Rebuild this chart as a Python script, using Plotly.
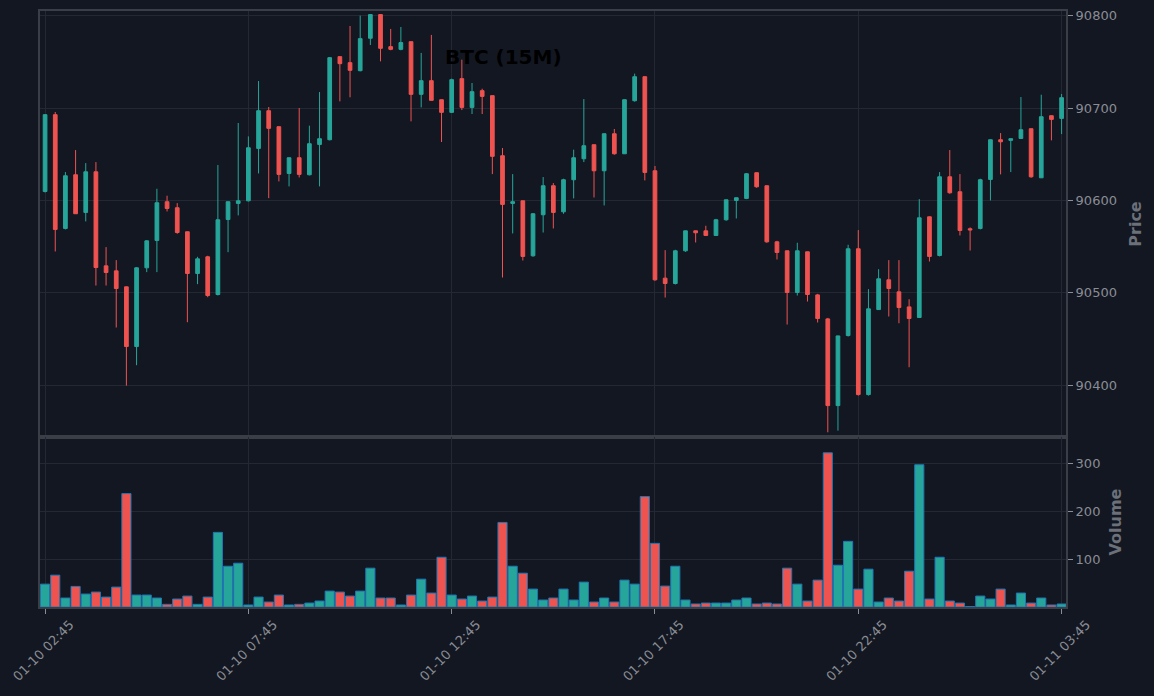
import pandas as pd
import plotly.graph_objects as go

# 15 minute candles, 01-10 02:45 -> 01-11 03:45
times = pd.date_range("2025-01-10 02:45", periods=101, freq="15min")

opens = [90609.7, 90692.8, 90569.7, 90627.8, 90587.0, 90631.0, 90529.2, 90523.8, 90506.5, 90441.9,
         90527.1, 90556.7, 90598.6, 90592.1, 90566.1, 90520.9, 90539.0, 90498.2, 90579.4, 90596.8,
         90599.6, 90656.3, 90697.1, 90679.8, 90629.2, 90646.2, 90627.8, 90660.6, 90665.7, 90755.6,
         90749.1, 90740.4, 90775.5, 90801.1, 90766.4, 90763.5, 90771.8, 90714.8, 90729.6, 90709.0,
         90695.3, 90731.8, 90700.7, 90718.8, 90713.4, 90648.4, 90596.8, 90599.6, 90540.1, 90584.5,
         90615.9, 90587.7, 90622.4, 90645.1, 90660.3, 90632.1, 90672.2, 90650.5, 90707.9, 90733.9,
         90632.1, 90515.9, 90510.1, 90545.5, 90567.1, 90567.1, 90562.1, 90579.1, 90600.0, 90602.2,
         90630.0, 90615.9, 90555.2, 90545.5, 90500.4, 90544.4, 90497.8, 90471.8, 90378.0, 90453.8,
         90547.7, 90389.9, 90481.9, 90514.1, 90501.1, 90484.8, 90473.3, 90582.3, 90540.4, 90625.6,
         90609.4, 90569.3, 90569.7, 90622.7, 90665.7, 90665.0, 90667.1, 90677.6, 90624.5, 90691.7,
         90688.8]

highs = [90693.5, 90695.7, 90630.7, 90654.5, 90640.4, 90641.5, 90549.5, 90535.4, 90506.8, 90527.8,
         90557.0, 90612.6, 90605.1, 90597.1, 90566.3, 90539.0, 90540.1, 90638.3, 90598.8, 90683.8,
         90669.3, 90729.2, 90701.1, 90680.0, 90646.4, 90700.0, 90680.9, 90717.3, 90755.2, 90755.8,
         90788.8, 90800.0, 90801.5, 90801.5, 90785.6, 90787.7, 90772.0, 90759.6, 90779.1, 90709.2,
         90731.8, 90752.3, 90727.1, 90720.9, 90713.6, 90656.7, 90628.5, 90599.8, 90586.3, 90625.3,
         90618.8, 90623.5, 90654.9, 90709.7, 90660.5, 90672.4, 90677.3, 90709.2, 90737.2, 90734.1,
         90637.2, 90546.2, 90546.6, 90567.3, 90567.3, 90572.6, 90580.1, 90600.9, 90603.1, 90629.6,
         90630.2, 90616.1, 90556.3, 90545.7, 90554.2, 90544.6, 90498.9, 90472.9, 90453.6, 90552.0,
         90567.9, 90504.0, 90525.6, 90535.4, 90535.4, 90493.1, 90601.4, 90582.5, 90630.7, 90654.5,
         90628.5, 90570.8, 90623.5, 90665.9, 90672.9, 90667.0, 90711.9, 90677.8, 90714.4, 90691.9,
         90715.2]

lows = [90608.6, 90544.8, 90568.6, 90585.4, 90577.3, 90507.9, 90507.9, 90462.5, 90399.6, 90421.7,
        90522.4, 90522.4, 90588.1, 90563.9, 90468.2, 90509.4, 90495.3, 90497.1, 90544.0, 90583.8,
        90598.9, 90629.2, 90602.5, 90620.6, 90615.2, 90624.9, 90627.1, 90615.2, 90665.0, 90707.2,
        90711.6, 90739.7, 90768.2, 90750.5, 90762.5, 90762.5, 90685.6, 90700.7, 90708.1, 90663.2,
        90694.6, 90697.8, 90693.5, 90693.5, 90628.5, 90516.6, 90564.3, 90535.0, 90539.0, 90565.3,
        90569.7, 90585.6, 90602.2, 90641.5, 90603.2, 90594.6, 90649.5, 90650.3, 90706.9, 90621.7,
        90513.0, 90494.9, 90509.0, 90544.4, 90554.5, 90561.9, 90561.9, 90578.0, 90580.5, 90601.4,
        90613.7, 90554.2, 90536.1, 90465.7, 90497.1, 90490.6, 90467.9, 90349.1, 90350.9, 90452.7,
        90388.8, 90388.8, 90481.7, 90474.4, 90467.1, 90419.5, 90473.1, 90533.9, 90539.4, 90607.2,
        90562.1, 90545.8, 90568.6, 90600.0, 90628.2, 90630.7, 90666.9, 90624.5, 90624.3, 90665.0,
        90671.8]

closes = [90692.8, 90568.6, 90626.7, 90585.6, 90631.0, 90527.4, 90522.0, 90504.7, 90441.9, 90527.1,
          90556.3, 90597.5, 90591.3, 90565.3, 90520.9, 90536.8, 90497.1, 90579.1, 90598.6, 90599.6,
          90657.0, 90697.1, 90678.0, 90628.2, 90646.2, 90628.2, 90661.4, 90666.8, 90754.5, 90748.0,
          90740.8, 90775.1, 90801.1, 90764.6, 90763.5, 90770.8, 90714.8, 90729.6, 90708.3, 90695.3,
          90730.7, 90700.7, 90717.7, 90712.6, 90647.7, 90595.7, 90598.6, 90539.4, 90585.6, 90615.9,
          90587.0, 90622.4, 90646.2, 90659.2, 90632.1, 90672.2, 90650.5, 90709.0, 90733.9, 90630.3,
          90514.1, 90510.1, 90545.5, 90567.1, 90565.0, 90562.1, 90579.1, 90600.7, 90602.9, 90628.9,
          90614.8, 90555.2, 90543.7, 90500.4, 90545.5, 90498.2, 90472.2, 90378.0, 90453.4, 90547.7,
          90389.9, 90482.7, 90515.2, 90504.7, 90484.1, 90472.2, 90581.2, 90539.4, 90625.6, 90608.3,
          90567.5, 90568.2, 90622.4, 90665.7, 90663.5, 90666.8, 90676.5, 90625.6, 90690.6, 90687.7,
          90711.2]

volumes = [47.9, 66.7, 18.8, 43.1, 27.1, 31.3, 20.8, 41.7, 237.5, 25.0,
           25.0, 18.8, 5.6, 16.7, 22.9, 5.6, 20.8, 156.3, 85.4, 91.7,
           4.2, 20.8, 10.4, 25.0, 4.2, 5.6, 8.3, 12.5, 33.3, 31.3,
           22.9, 33.3, 81.3, 18.8, 18.8, 4.2, 25.0, 58.3, 29.2, 104.2,
           25.0, 16.7, 22.9, 12.5, 20.8, 177.1, 85.4, 70.8, 37.5, 14.6,
           18.8, 37.5, 14.6, 52.1, 10.4, 18.8, 10.4, 56.3, 47.9, 231.3,
           133.3, 43.8, 85.4, 14.6, 6.3, 8.3, 8.3, 8.3, 14.6, 18.8,
           6.3, 8.3, 6.3, 81.3, 47.9, 12.5, 56.3, 322.9, 87.5, 137.5,
           37.5, 79.2, 10.4, 18.8, 12.5, 75.0, 297.9, 16.7, 104.2, 12.5,
           8.3, 1.0, 22.9, 16.7, 37.5, 4.2, 29.2, 8.3, 18.8, 4.2,
           6.3]

UP = "#26a69a"
DOWN = "#ef5350"
BG = "#131722"
FRAME = "#3a3e47"
GRID = "#242832"
TICK = "#8a8d94"

vol_colors = [UP if c >= o else DOWN for o, c in zip(opens, closes)]

fig = go.Figure()

fig.add_trace(go.Candlestick(x=times, open=opens, high=highs, low=lows, close=closes,
                             increasing=dict(line=dict(color=UP, width=1), fillcolor=UP),
                             decreasing=dict(line=dict(color=DOWN, width=1), fillcolor=DOWN),
                             whiskerwidth=0, showlegend=False, xaxis="x", yaxis="y"))

fig.add_trace(go.Bar(x=times, y=volumes, width=15 * 60 * 1000 * 0.9,
                     marker=dict(color=vol_colors, line=dict(color="#1f77b4", width=1)),
                     showlegend=False, xaxis="x2", yaxis="y2"))

split = (607 - 437) / 596
x_range = [times[0] - pd.Timedelta(minutes=7.5), times[-1] + pd.Timedelta(minutes=6.5)]

common_x = dict(type="date", range=x_range, tick0=times[0], dtick=5 * 3600 * 1000,
                gridcolor=GRID, gridwidth=1, showline=True, linecolor=FRAME, linewidth=2,
                mirror=True, zeroline=False, automargin=False)

fig.update_layout(
    width=1154, height=696,
    paper_bgcolor=BG, plot_bgcolor=BG,
    margin=dict(l=40, r=88, t=11, b=89),
    font=dict(family="DejaVu Sans", color=TICK, size=13),
    boxgap=0.48,
    xaxis=dict(common_x, domain=[0, 1], anchor="y", showticklabels=False,
               rangeslider=dict(visible=False)),
    xaxis2=dict(common_x, domain=[0, 1], anchor="y2", matches="x",
                ticks="outside", ticklen=5, tickcolor=TICK, tickangle=-45,
                ticklabeloverflow="allow", ticklabelshift=25, ticklabelstandoff=-2,
                tickformat="%m-%d %H:%M", tickfont=dict(size=13, color=TICK)),
    yaxis=dict(domain=[split, 1], side="right", range=[90344, 90805], dtick=100,
               gridcolor=GRID, showline=True, linecolor=FRAME, linewidth=2, mirror=True,
               ticks="outside", ticklen=5, tickcolor=TICK, zeroline=False, automargin=False,
               tickfont=dict(size=13, color=TICK), tickformat="d",
               title=dict(text="<b>Price</b>", font=dict(size=16, color="#6c7079"), standoff=14)),
    yaxis2=dict(domain=[0, split], side="right", range=[0, 356], tickvals=[100, 200, 300],
                gridcolor=GRID, showline=True, linecolor=FRAME, linewidth=2, mirror=True,
                ticks="outside", ticklen=5, tickcolor=TICK, zeroline=False, automargin=False,
                tickfont=dict(size=13, color=TICK),
                title=dict(text="<b>Volume</b>", font=dict(size=16, color="#6c7079"), standoff=10)),
)

fig.add_annotation(x=(503 - 40) / 1026, y=(607 - 57) / 596, xref="paper", yref="paper",
                   xanchor="center", yanchor="middle",
                   text="<b>BTC (15M)</b>", showarrow=False,
                   font=dict(size=20, color="black", family="DejaVu Sans"))

fig.write_html("out.html", config={"displayModeBar": False},
               post_script="document.body.style.margin='0';document.body.style.background='#131722';")
